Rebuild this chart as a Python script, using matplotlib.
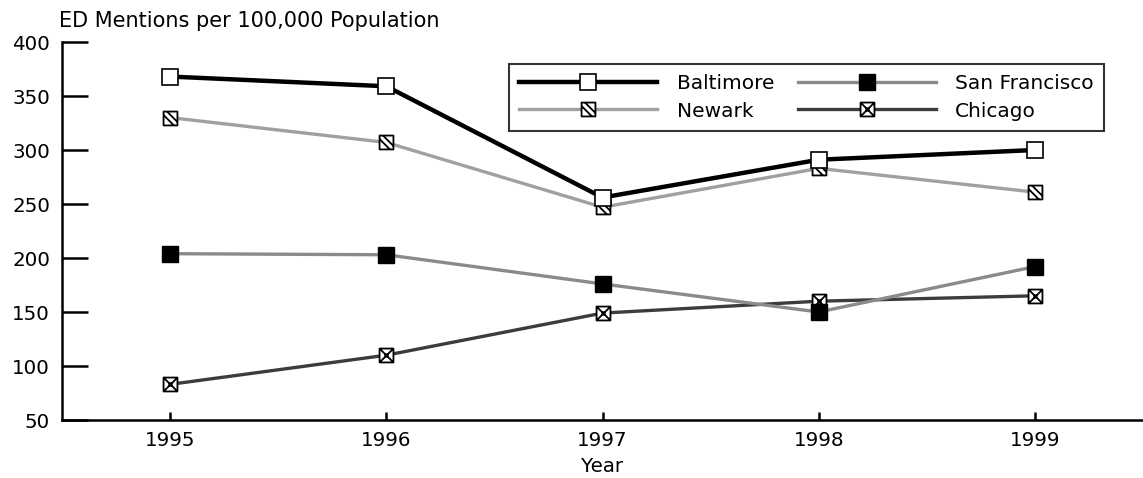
import matplotlib
matplotlib.use("Agg")
import matplotlib.pyplot as plt
from matplotlib.path import Path

plt.rcParams['font.family'] = ['DejaVu Sans']

years = [1995, 1996, 1997, 1998, 1999]
baltimore = [368, 359, 256, 291, 300]
newark = [330, 307, 247, 283, 261]
san_francisco = [204, 203, 176, 150, 192]
chicago = [83, 110, 149, 160, 165]
yticks = [50, 100, 150, 200, 250, 300, 350, 400]

# custom markers
sq = [(-1, -1), (1, -1), (1, 1), (-1, 1), (-1, -1)]
sq_codes = [Path.MOVETO, Path.LINETO, Path.LINETO, Path.LINETO, Path.CLOSEPOLY]
hatch_v = sq + [(-1, 0.5), (0.5, -1), (-0.5, 1), (1, -0.5)]
hatch_c = sq_codes + [Path.MOVETO, Path.LINETO, Path.MOVETO, Path.LINETO]
newark_marker = Path(hatch_v, hatch_c)
cross_v = sq + [(-1, -1), (1, 1), (-1, 1), (1, -1), (-0.3, 0), (0.3, 0), (0, -0.3), (0, 0.3)]
cross_c = sq_codes + [Path.MOVETO, Path.LINETO, Path.MOVETO, Path.LINETO,
                      Path.MOVETO, Path.LINETO, Path.MOVETO, Path.LINETO]
chicago_marker = Path(cross_v, cross_c)

fig = plt.figure(figsize=(11.43, 4.78), dpi=100)
ax = fig.add_axes([62/1143, 1-420/478, 1-62/1143, (420-42)/478])

ax.plot(years, chicago, color='#3c3c3c', lw=2.4, marker=chicago_marker, ms=10,
        mfc='white', mec='black', mew=1.3, label='Chicago', zorder=2)
ax.plot(years, san_francisco, color='#8a8a8a', lw=2.4, marker='s', ms=11,
        mfc='black', mec='black', mew=1, label='San Francisco', zorder=3)
ax.plot(years, newark, color='#a0a0a0', lw=2.4, marker=newark_marker, ms=10,
        mfc='white', mec='black', mew=1.3, label='Newark', zorder=4)
ax.plot(years, baltimore, color='black', lw=3.2, marker='s', ms=12,
        mfc='white', mec='black', mew=1.2, label='Baltimore', zorder=5)

ax.set_xlim(1994.5, 1999.5)
ax.set_ylim(50, 400)
ax.set_xticks(years)
ax.set_yticks(yticks)
ax.set_xticklabels([str(y) for y in years])
ax.spines['top'].set_visible(False)
ax.spines['right'].set_visible(False)
ax.spines['left'].set_linewidth(1.8)
ax.spines['bottom'].set_linewidth(1.8)
ax.tick_params(axis='y', direction='in', length=19, width=1.8, labelsize=14.3, pad=8.5)
ax.tick_params(axis='x', direction='in', length=6, width=1.8, labelsize=14.3, pad=8)
ax.set_xlabel('Year', fontsize=14.3, labelpad=5)

fig.text(59/1143, 1-21/478, 'ED Mentions per 100,000 Population', fontsize=15,
         ha='left', va='center')

h, l = ax.get_legend_handles_labels()
order = ['Baltimore', 'Newark', 'San Francisco', 'Chicago']
hs = [h[l.index(o)] for o in order]
leg = ax.legend(hs, order, loc='upper right', bbox_to_anchor=(1104/1143, 1-64/478),
                bbox_transform=fig.transFigure, ncol=2, fontsize=14.5, frameon=True,
                fancybox=False, edgecolor='black', handlelength=6.85, handletextpad=0.95,
                columnspacing=1.2, borderaxespad=0, labelspacing=0.42, borderpad=0.5)
leg.get_frame().set_linewidth(1.5)

fig.savefig('out.png', dpi=100)
